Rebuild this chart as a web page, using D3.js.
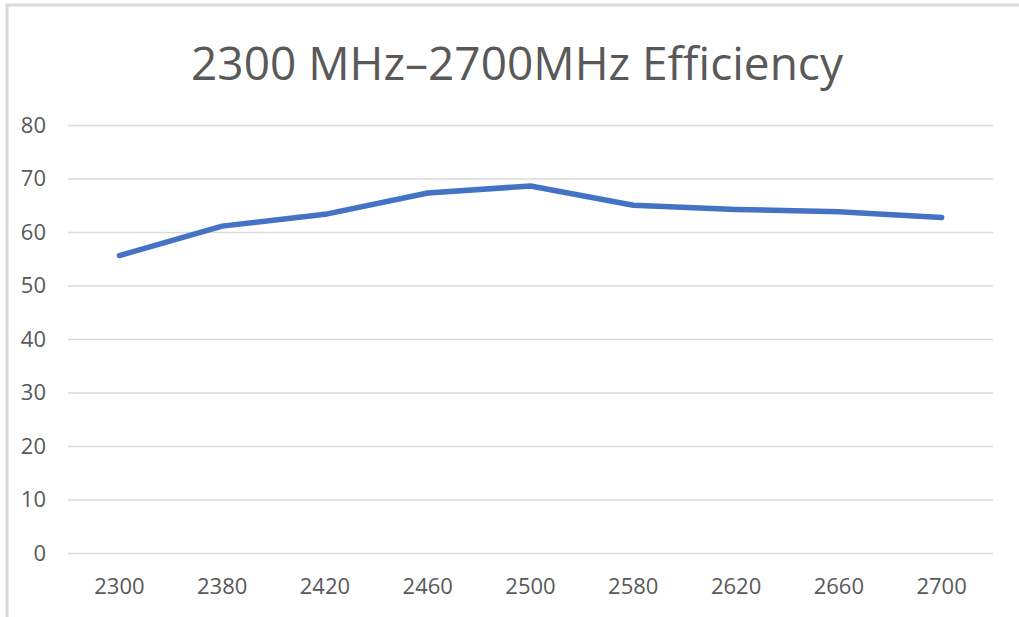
<!DOCTYPE html>
<html>
<head>
<meta charset="utf-8">
<script src="https://cdn.jsdelivr.net/npm/d3@7"></script>
<style>
    body { margin:0; background:#ffffff; }
    text { font-family:"Open Sans", sans-serif; fill:#595959; }
</style>
</head>
<body>
<svg id="graph1"></svg>
<script>

// chart values
var frequencies = ["2300","2380","2420","2460","2500","2580","2620","2660","2700"]
var efficiency = [55.6, 61.1, 63.3, 67.3, 68.6, 65.0, 64.2, 63.8, 62.7]
var yTicks = [0,10,20,30,40,50,60,70,80]
var title = "2300 MHz\u20132700MHz Efficiency"


var initGraph = function()
{
    var screen = {width:1019, height:617}
    var margins = {left:68, right:26, top:125, bottom:64}

    var graph =
        {
            width: screen.width-margins.left-margins.right,
            height: screen.height-margins.top-margins.bottom
        }

    var svg = d3.select("#graph1")
        .attr("width", screen.width)
        .attr("height", screen.height)

    // outer frame (top and left edges visible)
    svg.append("path")
        .attr("d", "M7,617 V5 H1019")
        .attr("fill", "none")
        .attr("stroke", "#d9d9d9")
        .attr("stroke-width", 3)

    var xScale = d3.scaleBand()
        .domain(frequencies)
        .range([0, graph.width])

    var yScale = d3.scaleLinear()
        .domain([0,80])
        .range([graph.height,0])

    var target = svg.append("g")
        .attr("transform", "translate(" + margins.left + "," + margins.top + ")")

    drawAxis(target, graph, xScale, yScale)
    drawLine(target, xScale, yScale)
    drawLabels(svg, screen)
}


var drawAxis = function(target, graph, xScale, yScale)
{
    var yAxis = d3.axisLeft(yScale)
        .tickValues(yTicks)
        .tickSize(-graph.width)
        .tickPadding(22)

    var ya = target.append("g")
        .call(yAxis)
    ya.select(".domain").remove()
    ya.selectAll("line")
        .attr("stroke", "#d9d9d9")
        .attr("stroke-width", 1.5)
    ya.selectAll("text")
        .attr("font-size", 22)
        .attr("fill", "#595959")
        .style("font-family", "'Open Sans', sans-serif")

    var xAxis = d3.axisBottom(xScale)
        .tickSize(0)
        .tickPadding(25)

    var xa = target.append("g")
        .attr("transform", "translate(0," + graph.height + ")")
        .call(xAxis)
    xa.select(".domain").remove()
    xa.selectAll("text")
        .attr("font-size", 22)
        .attr("fill", "#595959")
        .style("font-family", "'Open Sans', sans-serif")
}


var drawLine = function(target, xScale, yScale)
{
    var line = d3.line()
        .x(function(d, i) { return xScale(frequencies[i]) + xScale.bandwidth()/2 })
        .y(function(d) { return yScale(d) })

    target.append("path")
        .datum(efficiency)
        .attr("d", line)
        .attr("fill", "none")
        .attr("stroke", "#4472c4")
        .attr("stroke-width", 5.5)
        .attr("stroke-linecap", "round")
        .attr("stroke-linejoin", "round")
}


var drawLabels = function(svg, screen)
{
    svg.append("text")
        .text(title)
        .attr("x", 517)
        .attr("y", 80)
        .attr("text-anchor", "middle")
        .attr("font-size", 46)
}

initGraph()

</script>
</body>
</html>
